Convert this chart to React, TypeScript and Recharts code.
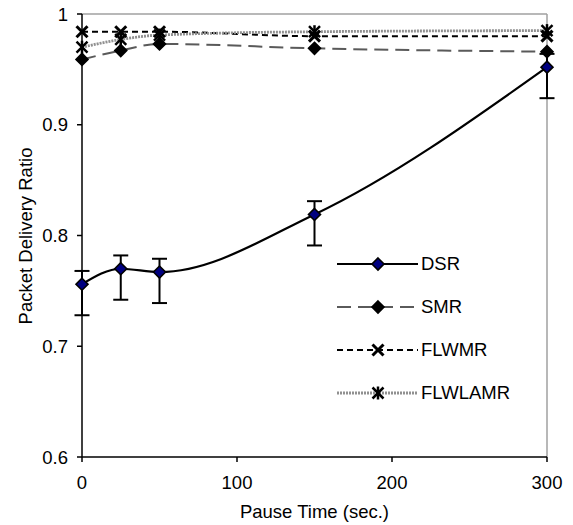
import React from 'react';
import { LineChart, Line, XAxis, YAxis, ErrorBar, ReferenceLine, Legend } from 'recharts';

const pauseTimes = [0, 25, 50, 150, 300];
const dsr = [0.756, 0.770, 0.767, 0.819, 0.952];
const dsrErrLow = [0.028, 0.028, 0.028, 0.028, 0.028];
const dsrErrHigh = [0.012, 0.012, 0.012, 0.012, 0.012];
const smr = [0.959, 0.967, 0.973, 0.969, 0.966];
const flwmr = [0.984, 0.984, 0.984, 0.980, 0.980];
const flwlamr = [0.970, 0.977, 0.981, 0.984, 0.985];
const yTicks = [0.6, 0.7, 0.8, 0.9, 1];
const xTicks = [0, 100, 200, 300];
const seriesNames = ['DSR', 'SMR', 'FLWMR', 'FLWLAMR'];

const data = pauseTimes.map((t, i) => ({
  t,
  DSR: dsr[i],
  dsrErr: [dsrErrLow[i], dsrErrHigh[i]],
  SMR: smr[i],
  FLWMR: flwmr[i],
  FLWLAMR: flwlamr[i],
}));

const FONT = '"Liberation Sans", Arial, sans-serif';
const FS = 18.5;

type MP = { cx?: number; cy?: number };

const Diamond = ({ cx = 0, cy = 0, fill }: MP & { fill: string }) => {
  const h = 6;
  return (
    <polygon
      points={`${cx},${cy - h} ${cx + h},${cy} ${cx},${cy + h} ${cx - h},${cy}`}
      fill={fill}
      stroke="#000"
      strokeWidth={1.6}
    />
  );
};

const Cross = ({ cx = 0, cy = 0 }: MP) => {
  const h = 5.5;
  return (
    <g stroke="#000" strokeWidth={3} strokeLinecap="butt">
      <line x1={cx - h} y1={cy - h} x2={cx + h} y2={cy + h} />
      <line x1={cx - h} y1={cy + h} x2={cx + h} y2={cy - h} />
    </g>
  );
};

const Star = ({ cx = 0, cy = 0 }: MP) => {
  const h = 5.5;
  return (
    <g stroke="#000" strokeWidth={2.5}>
      <line x1={cx - h} y1={cy - h} x2={cx + h} y2={cy + h} />
      <line x1={cx - h} y1={cy + h} x2={cx + h} y2={cy - h} />
      <line x1={cx} y1={cy - h - 1} x2={cx} y2={cy + h + 1} />
    </g>
  );
};

const styles: Record<string, { stroke: string; width: number; dash?: string; marker: (p: MP) => React.ReactElement }> = {
  DSR: { stroke: '#000', width: 2.2, marker: (p) => <Diamond {...p} fill="#000080" /> },
  SMR: { stroke: '#5a5a5a', width: 2, dash: '14 7', marker: (p) => <Diamond {...p} fill="#000" /> },
  FLWMR: { stroke: '#000', width: 2, dash: '6 4', marker: (p) => <Cross {...p} /> },
  FLWLAMR: { stroke: '#909090', width: 2.8, dash: '2 1', marker: (p) => <Star {...p} /> },
};

const LegendContent = () => (
  <div style={{ fontFamily: FONT, fontSize: FS, color: '#000' }}>
    {seriesNames.map((n) => {
      const s = styles[n];
      return (
        <div key={n} style={{ display: 'flex', alignItems: 'center', height: 43 }}>
          <svg width={84} height={20} style={{ display: 'block' }}>
            <line x1={0} y1={10} x2={81} y2={10} stroke={s.stroke} strokeWidth={s.width} strokeDasharray={s.dash} />
            {s.marker({ cx: 41, cy: 10 })}
          </svg>
          <span style={{ lineHeight: '20px' }}>{n}</span>
        </div>
      );
    })}
  </div>
);

const YLabel = () => (
  <text
    x={32}
    y={236}
    transform="rotate(-90 32 236)"
    textAnchor="middle"
    fontFamily={FONT}
    fontSize={FS}
    fill="#000"
  >
    Packet Delivery Ratio
  </text>
);

export default function App() {
  return (
    <div style={{ position: 'absolute', left: 0, top: 0 }}>
      <LineChart
        width={573}
        height={525}
        data={data}
        margin={{ top: 14, right: 26, bottom: 7, left: 0 }}
      >
        <XAxis
          dataKey="t"
          type="number"
          domain={[0, 300]}
          ticks={xTicks}
          stroke="#000"
          strokeWidth={1.5}
          tickSize={5}
          tickMargin={14}
          height={61}
          tick={{ fill: '#000', fontFamily: FONT, fontSize: FS }}
          label={{ value: 'Pause Time (sec.)', position: 'insideBottom', offset: 0, fill: '#000', fontFamily: FONT, fontSize: FS }}
        />
        <YAxis
          type="number"
          domain={[0.6, 1]}
          ticks={yTicks}
          stroke="#000"
          strokeWidth={1.5}
          tickSize={5}
          tickMargin={9}
          width={82}
          tick={{ fill: '#000', fontFamily: FONT, fontSize: FS }}
          label={{ content: () => <YLabel /> }}
        />
        <ReferenceLine y={1} stroke="#a0a0a0" strokeWidth={1.5} />
        <ReferenceLine x={300} stroke="#a0a0a0" strokeWidth={1.5} />
        {seriesNames.map((n) => {
          const s = styles[n];
          return (
            <Line
              key={n}
              dataKey={n}
              type="monotone"
              stroke={s.stroke}
              strokeWidth={s.width}
              strokeDasharray={s.dash}
              isAnimationActive={false}
              activeDot={false}
              dot={(p: any) => <g key={`${n}-${p.index}`}>{s.marker({ cx: p.cx, cy: p.cy })}</g>}
            >
              {n === 'DSR' ? (
                <ErrorBar dataKey="dsrErr" direction="y" width={7.5} stroke="#000" strokeWidth={2} isAnimationActive={false} />
              ) : null}
            </Line>
          );
        })}
        <Legend
          layout="vertical"
          align="center"
          verticalAlign="middle"
          content={() => <LegendContent />}
          wrapperStyle={{ position: 'absolute', left: 337, top: 242, width: 220 }}
        />
      </LineChart>
    </div>
  );
}
